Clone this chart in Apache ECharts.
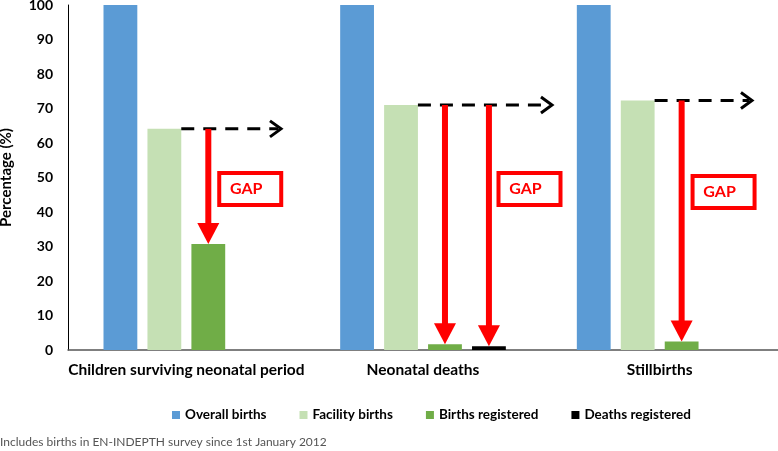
<!DOCTYPE html>
<html>
<head>
<meta charset="utf-8">
<script src="https://cdn.jsdelivr.net/npm/echarts@6/dist/echarts.min.js"></script>
<style>
  html, body { margin: 0; padding: 0; background: #fff; }
  #chart { width: 778px; height: 451px; }
</style>
</head>
<body>
<div id="chart"></div>
<script>
// data
var categories = ['Children surviving neonatal period', 'Neonatal deaths', 'Stillbirths'];
var overallBirths = [100, 100, 100];
var facilityBirths = [64.1, 71, 72.3];
var birthsRegistered = [30.7, 1.7, 2.5];
var deathsRegistered = [null, 1.1, null];
var yTicks = [0, 10, 20, 30, 40, 50, 60, 70, 80, 90, 100];

// which bars the red "gap" arrows point at (2 = births registered, 3 = deaths registered)
var gapTargets = [[2], [2, 3], [2]];
// annotation placement (fraction of category width / value level)
var arrowReach = [0.40, 0.545, 0.39];
var boxOffset = [0.27, 0.45, 0.27];
var boxLevel = [46.7, 46.7, 45.8];

window.addEventListener('load', initChart);

function initChart() {
    var chart = echarts.init(document.getElementById('chart'));
    var font = 'Lato';

    function renderGap(params, api) {
        var i = api.value(0);
        var cx = api.coord([i, 0])[0];
        var catW = api.size([1, 0])[0];
        var bw = catW * 0.7 / 4.9;
        var step = bw * 1.3;
        function slotX(k) { return cx - catW * 0.35 + k * step + bw / 2; }
        var level = api.coord([i, facilityBirths[i]])[1];
        var kids = [];

        // dashed black arrow from facility level
        var x0 = slotX(1) + bw / 2;
        var x1 = cx + arrowReach[i] * catW;
        kids.push({ type: 'line', shape: { x1: x0, y1: level, x2: x1 - 3, y2: level },
            style: { stroke: '#000', lineWidth: 3, lineDash: [13, 9] } });
        kids.push({ type: 'polyline', shape: { points: [[x1 - 11, level - 8], [x1, level], [x1 - 11, level + 8]] },
            style: { stroke: '#000', lineWidth: 3, fill: null } });

        // red arrows down to registered bars
        gapTargets[i].forEach(function (k) {
            var v = k === 2 ? birthsRegistered[i] : deathsRegistered[i];
            var x = slotX(k);
            var yEnd = api.coord([i, v])[1];
            kids.push({ type: 'line', shape: { x1: x, y1: level, x2: x, y2: yEnd - 18 },
                style: { stroke: '#ff0000', lineWidth: 6 } });
            kids.push({ type: 'polygon', shape: { points: [[x - 11, yEnd - 21], [x + 11, yEnd - 21], [x, yEnd]] },
                style: { fill: '#ff0000' } });
        });

        // GAP box
        var bx = cx + boxOffset[i] * catW;
        var by = api.coord([i, boxLevel[i]])[1];
        kids.push({ type: 'rect', shape: { x: bx - 31, y: by - 16, width: 62, height: 32 },
            style: { fill: '#fff', stroke: '#ff0000', lineWidth: 4 } });
        kids.push({ type: 'text', style: { text: 'GAP', x: bx - 4, y: by, align: 'center', verticalAlign: 'middle',
            fill: '#ff0000', fontSize: 16, fontWeight: 'bold', fontFamily: font } });

        return { type: 'group', children: kids };
    }

    var option = {
        animation: false,
        title: {
            text: 'Includes births in EN-INDEPTH survey since 1st January 2012',
            left: -5,
            top: 431,
            textStyle: { fontFamily: font, fontSize: 12, fontWeight: 'normal', color: '#555' }
        },
        legend: {
            data: ['Overall births', 'Facility births', 'Births registered', 'Deaths registered'],
            left: 167,
            top: 403,
            icon: 'rect',
            itemWidth: 8,
            itemHeight: 8,
            itemGap: 33,
            textStyle: { fontFamily: font, fontSize: 13.5, fontWeight: 'bold', color: '#000' }
        },
        grid: { left: 68, right: 0, top: 5, bottom: 101, outerBoundsMode: 'none' },
        xAxis: {
            type: 'category',
            data: categories,
            axisLine: { lineStyle: { color: '#555', width: 1.5 } },
            axisTick: { show: false },
            axisLabel: { interval: 0, fontFamily: font, fontSize: 15.5, fontWeight: 'bold', color: '#000', margin: 12 }
        },
        yAxis: {
            type: 'value',
            min: 0,
            max: 100,
            interval: 10,
            name: 'Percentage (%)',
            nameLocation: 'middle',
            nameGap: 54,
            nameTextStyle: { fontFamily: font, fontSize: 15, fontWeight: 'bold', color: '#000' },
            splitLine: { show: false },
            axisLine: { show: true, lineStyle: { color: '#000', width: 1 } },
            axisTick: { show: false },
            axisLabel: {
                fontFamily: font, fontSize: 14, fontWeight: 'bold', color: '#000', margin: 15,
                formatter: function (v) { return yTicks.indexOf(v) >= 0 ? String(v) : ''; }
            }
        },
        series: [
            { name: 'Overall births', type: 'bar', data: overallBirths, barGap: '30%', barCategoryGap: '30%',
              itemStyle: { color: '#5b9bd5' } },
            { name: 'Facility births', type: 'bar', data: facilityBirths, itemStyle: { color: '#c5e0b4' } },
            { name: 'Births registered', type: 'bar', data: birthsRegistered, itemStyle: { color: '#70ad47' } },
            { name: 'Deaths registered', type: 'bar', data: deathsRegistered, itemStyle: { color: '#000' } },
            { name: 'gap', type: 'custom', data: [[0, 0], [1, 0], [2, 0]], encode: { x: 0, y: 1 },
              renderItem: renderGap, silent: true, clip: false, z: 10 }
        ]
    };

    chart.setOption(option);
}
</script>
</body>
</html>
